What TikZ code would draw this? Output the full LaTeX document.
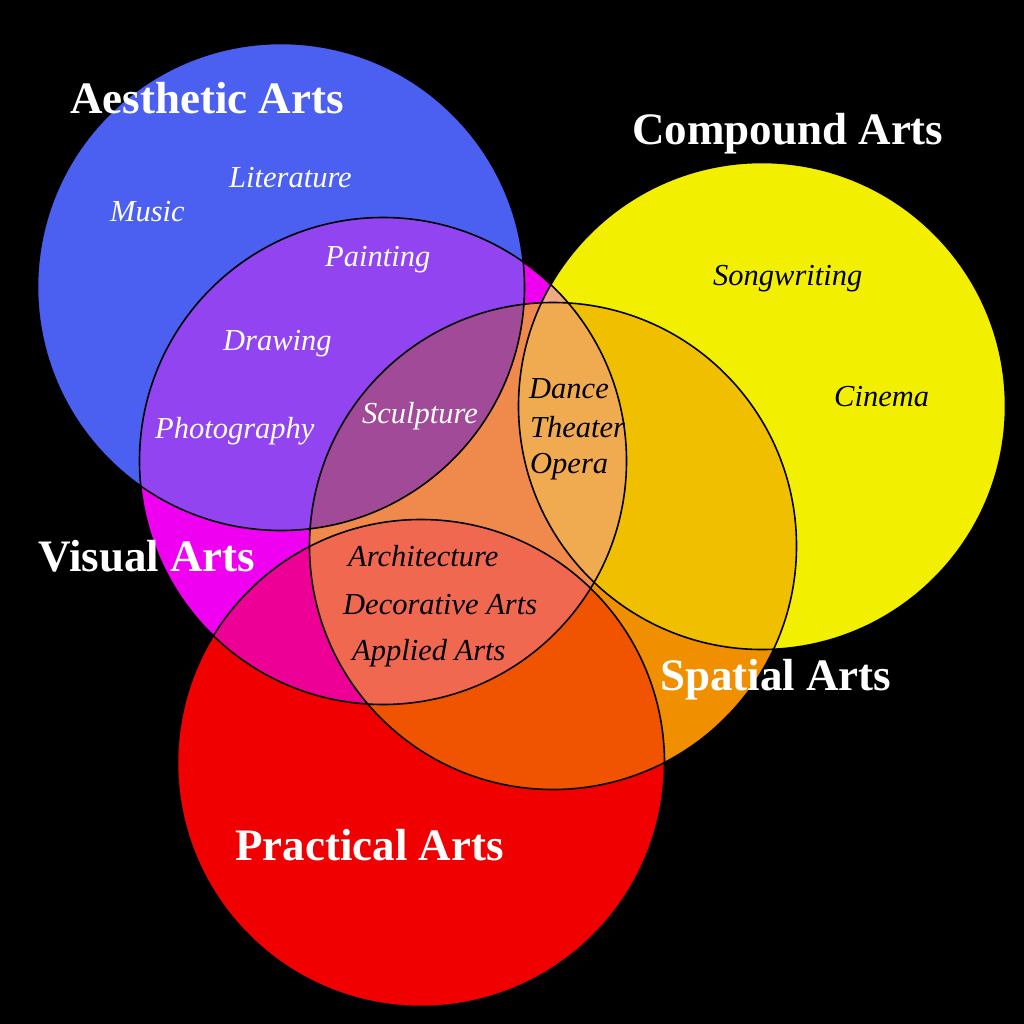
\documentclass[tikz,border=0pt]{standalone}
\usepackage{fontspec}
\setmainfont{Liberation Serif}
\definecolor{cB}{HTML}{4B5FF0}
\definecolor{cM}{HTML}{F000F0}
\definecolor{cY}{HTML}{F2F000}
\definecolor{cO}{HTML}{F09000}
\definecolor{cR}{HTML}{F00000}
\definecolor{cBM}{HTML}{9244F0}
\definecolor{cMY}{HTML}{F0AA82}
\definecolor{cYO}{HTML}{F0C000}
\definecolor{cMO}{HTML}{F08A4C}
\definecolor{cOR}{HTML}{F05400}
\definecolor{cMR}{HTML}{EC0096}
\definecolor{cBMO}{HTML}{A04A98}
\definecolor{cMOY}{HTML}{F0AA50}
\definecolor{cMOR}{HTML}{F06850}
\newcommand*\PathAes{(281,287) circle [radius=243.5pt]}
\newcommand*\PathVis{(383,461) circle [radius=243.5pt]}
\newcommand*\PathCom{(762,406) circle [radius=243.5pt]}
\newcommand*\PathSpa{(553,546) circle [radius=243.5pt]}
\newcommand*\PathPra{(421,763) circle [radius=243.5pt]}
\begin{document}
\begin{tikzpicture}[x=1pt,y=-1pt,
  title/.style={text=white,font=\fontsize{45}{50}\selectfont\bfseries,anchor=base west,inner sep=0pt},
  itemw/.style={text=white,font=\fontsize{30.5}{34}\selectfont\itshape,anchor=base west,inner sep=0pt},
  itemk/.style={text=black,font=\fontsize{30.5}{34}\selectfont\itshape,anchor=base west,inner sep=0pt},
  ring/.style={draw=black,line width=1.6pt}]
\fill[black] (0,0) rectangle (1024,1024);
\useasboundingbox (0,0) rectangle (1024,1024);
% single circles
\fill[cY] \PathCom;
\fill[cO] \PathSpa;
\fill[cR] \PathPra;
\fill[cM] \PathVis;
\fill[cB] \PathAes;
% pairwise overlaps
\begin{scope}\clip \PathAes; \fill[cBM] \PathVis; \end{scope}
\begin{scope}\clip \PathVis; \fill[cMY] \PathCom; \end{scope}
\begin{scope}\clip \PathCom; \fill[cYO] \PathSpa; \end{scope}
\begin{scope}\clip \PathVis; \fill[cMO] \PathSpa; \end{scope}
\begin{scope}\clip \PathSpa; \fill[cOR] \PathPra; \end{scope}
\begin{scope}\clip \PathVis; \fill[cMR] \PathPra; \end{scope}
% triple overlaps
\begin{scope}\clip \PathAes; \clip \PathVis; \fill[cBMO] \PathSpa; \end{scope}
\begin{scope}\clip \PathVis; \clip \PathSpa; \fill[cMOY] \PathCom; \end{scope}
\begin{scope}\clip \PathVis; \clip \PathSpa; \fill[cMOR] \PathPra; \end{scope}
% outlines
\draw[ring] \PathCom;
\draw[ring] \PathSpa;
\draw[ring] \PathPra;
\draw[ring] \PathVis;
\draw[ring] \PathAes;
% titles
\node[title] (taes) at (70,114) {Aesthetic Arts};
\node[title] (tcom) at (632,145) {Compound Arts};
\node[title] (tvis) at (38,571) {Visual Arts};
\node[title] (tspa) at (660,690) {Spatial Arts};
\node[title] (tpra) at (235,860) {Practical Arts};
% items
\node[itemw] (music) at (110,222) {Music};
\node[itemw] (lit) at (229,188) {Literature};
\node[itemw] (paint) at (325,266) {Painting};
\node[itemw] (draw) at (223,350) {Drawing};
\node[itemw] (photo) at (155,438) {Photography};
\node[itemw] (sculp) at (362,423) {Sculpture};
\node[itemk] (song) at (713,285) {Songwriting};
\node[itemk] (cine) at (834,406) {Cinema};
\node[itemk] (dance) at (529,398) {Dance};
\node[itemk] (theat) at (530,437) {Theater};
\node[itemk] (opera) at (530,473) {Opera};
\node[itemk] (arch) at (348,566) {Architecture};
\node[itemk] (deco) at (343,614) {Decorative Arts};
\node[itemk] (appl) at (352,660) {Applied Arts};
\end{tikzpicture}
\end{document}
